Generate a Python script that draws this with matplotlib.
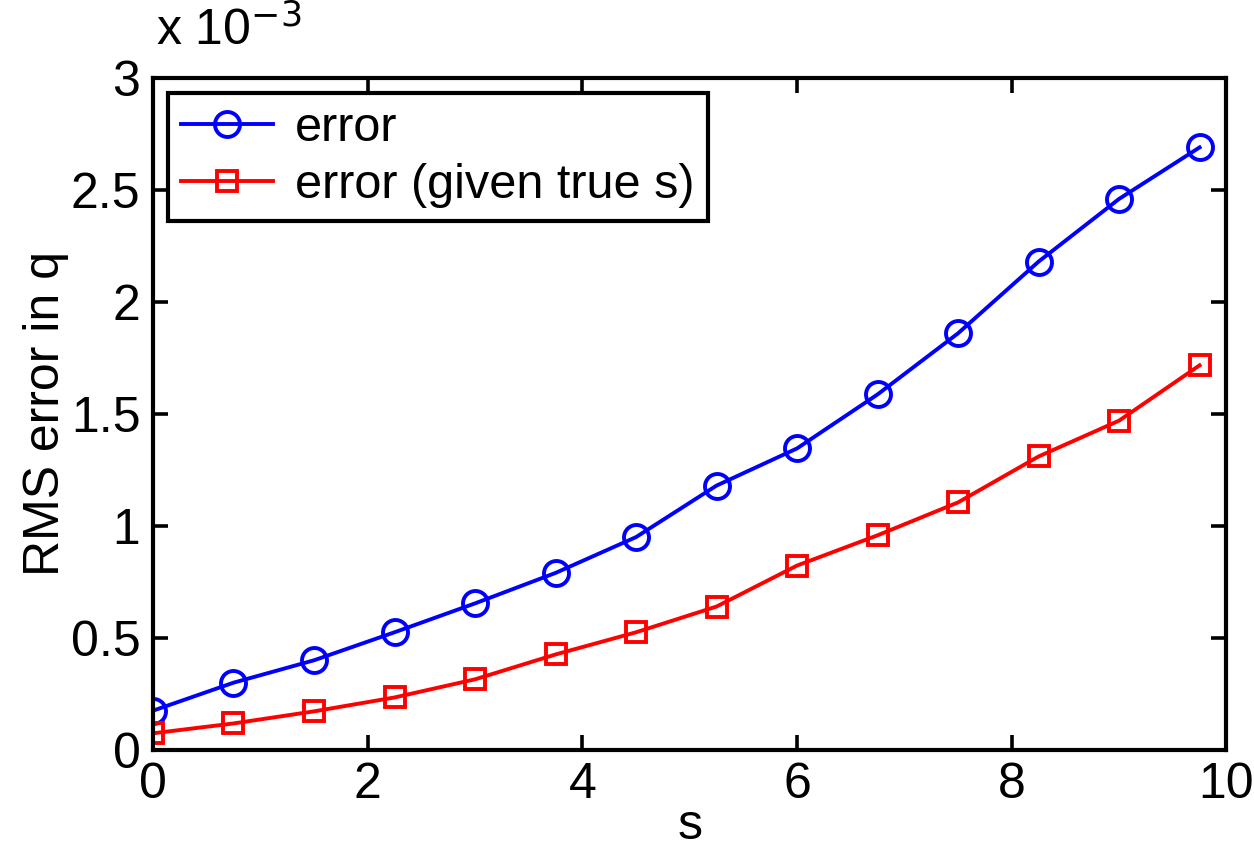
import matplotlib
matplotlib.use("Agg")
import matplotlib.pyplot as plt

# RMS error in q (units of 1e-3) versus s
s_values = [0, 0.75, 1.5, 2.25, 3.0, 3.75, 4.5, 5.25, 6.0, 6.75, 7.5, 8.25, 9.0, 9.75]
error = [0.175, 0.30, 0.40, 0.525, 0.654, 0.79, 0.95, 1.18, 1.346, 1.587, 1.86, 2.18, 2.46, 2.69]
error_true_s = [0.074, 0.118, 0.172, 0.234, 0.315, 0.426, 0.525, 0.64, 0.823, 0.958, 1.105, 1.31, 1.47, 1.717]

x_ticks = [0, 2, 4, 6, 8, 10]
y_ticks = [0, 0.5, 1, 1.5, 2, 2.5, 3]
y_tick_labels = ["0", "0.5", "1", "1.5", "2", "2.5", "3"]

plt.rcParams["font.family"] = ["Liberation Sans", "DejaVu Sans"]

fig = plt.figure(figsize=(12.54, 8.57), dpi=100)
ax = fig.add_axes([0.122, 0.125, 0.856, 0.784])

ax.plot(s_values, error, color="#0000ff", lw=2.8, marker="o", ms=18,
        mfc="none", mec="#0000ff", mew=2.8, label="error")
ax.plot(s_values, error_true_s, color="#ff0000", lw=2.8, marker="s", ms=14,
        mfc="none", mec="#ff0000", mew=2.8, label="error (given true s)")

ax.set_xlim(0, 10)
ax.set_ylim(0, 3)
ax.set_xticks(x_ticks)
ax.set_xticklabels([str(t) for t in x_ticks])
ax.set_yticks(y_ticks)
ax.set_yticklabels(y_tick_labels)

ax.tick_params(direction="in", length=11, width=2.6, labelsize=36,
               top=True, right=True, pad=9)
for sp in ax.spines.values():
    sp.set_linewidth(3.0)

ax.set_xlabel("s", fontsize=36, labelpad=-4)
ax.set_ylabel("RMS error in q", fontsize=36, labelpad=1)

ax.text(0.003, 1.035, r"x 10$^{-3}$", transform=ax.transAxes, fontsize=36,
        ha="left", va="bottom")

leg = ax.legend(loc="upper left", fontsize=35, frameon=True, fancybox=False,
                framealpha=1, handlelength=1.9, borderpad=0.27,
                labelspacing=0.25, handletextpad=0.45, borderaxespad=0.3)
leg.get_frame().set_edgecolor("black")
leg.get_frame().set_linewidth(3.0)

fig.savefig("out.png", dpi=100, facecolor="white")
